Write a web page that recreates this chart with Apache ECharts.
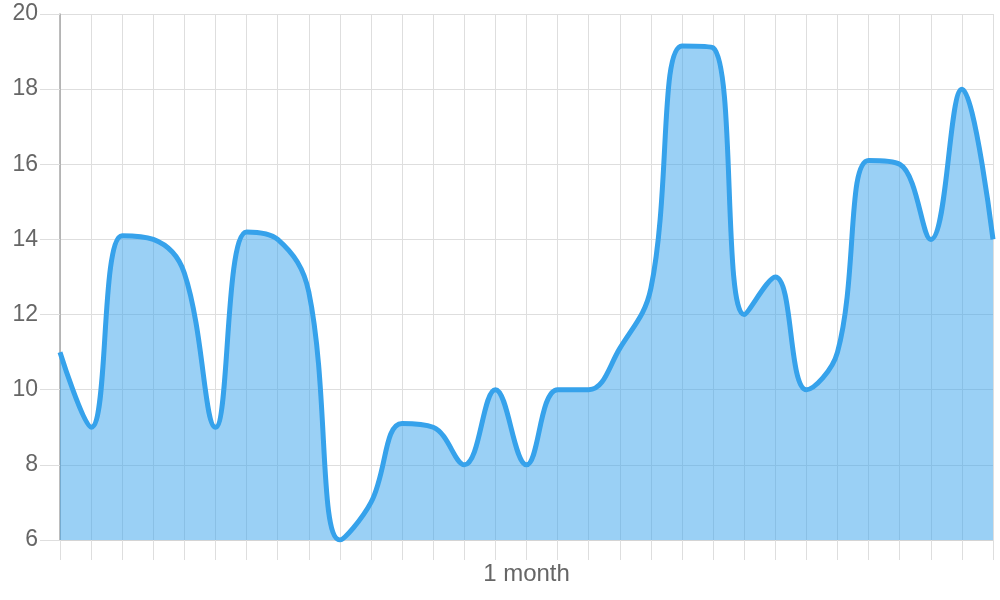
<!DOCTYPE html>
<html>
<head>
<meta charset="utf-8">
<script src="https://cdn.jsdelivr.net/npm/echarts@6/dist/echarts.min.js"></script>
<style>
    html, body { margin: 0; padding: 0; background: #fff; }
    #main { width: 1000px; height: 600px; }
</style>
</head>
<body>
<div id="main"></div>
<script>
// x categories: only the middle one carries a label
const categories = ['', '', '', '', '', '', '', '', '', '', '', '', '', '', '', '1 month',
    '', '', '', '', '', '', '', '', '', '', '', '', '', '', ''];
// values
const values = [11, 9, 14.1, 14, 13.1, 9, 14.2, 14, 12.6, 6, 7, 9.1, 9, 8, 10, 8,
    10, 10, 11.1, 12.7, 19.15, 19.1, 12, 13, 10, 11, 16.1, 16, 14, 18, 14];
const yMin = 6;
const yMax = 20;
const yStep = 2;

const lineColor = '#36a2eb';
const gridColor = '#dedede';
const textColor = '#666';

const myChart = echarts.init(document.getElementById('main'));
const option = {
    animation: false,
    grid: { left: 60, right: 7, top: 14, bottom: 60 },
    xAxis: {
        type: 'category',
        boundaryGap: false,
        data: categories,
        axisLine: { lineStyle: { color: '#d4d4d4', width: 1 } },
        axisTick: { show: true, length: 20, interval: 0, lineStyle: { color: gridColor } },
        axisLabel: {
            interval: 0,
            margin: 22,
            color: textColor,
            fontSize: 24,
            fontFamily: 'Liberation Sans, Arial, sans-serif'
        },
        splitLine: { show: true, interval: 0, lineStyle: { color: gridColor } }
    },
    yAxis: {
        type: 'value',
        min: yMin,
        max: yMax,
        interval: yStep,
        axisLine: { show: true, lineStyle: { color: '#a6a6a6', width: 1.5 } },
        axisTick: { show: true, length: 20, lineStyle: { color: gridColor } },
        axisLabel: {
            margin: 22,
            color: textColor,
            fontSize: 23,
            fontFamily: 'Liberation Sans, Arial, sans-serif'
        },
        splitLine: { show: true, lineStyle: { color: gridColor } }
    },
    series: [{
        type: 'line',
        data: values,
        smooth: 0.4,
        showSymbol: false,
        lineStyle: { color: lineColor, width: 5 },
        itemStyle: { color: lineColor },
        areaStyle: { color: 'rgba(54,162,235,0.5)', opacity: 1, origin: 'start' }
    }]
};
myChart.setOption(option);
</script>
</body>
</html>
